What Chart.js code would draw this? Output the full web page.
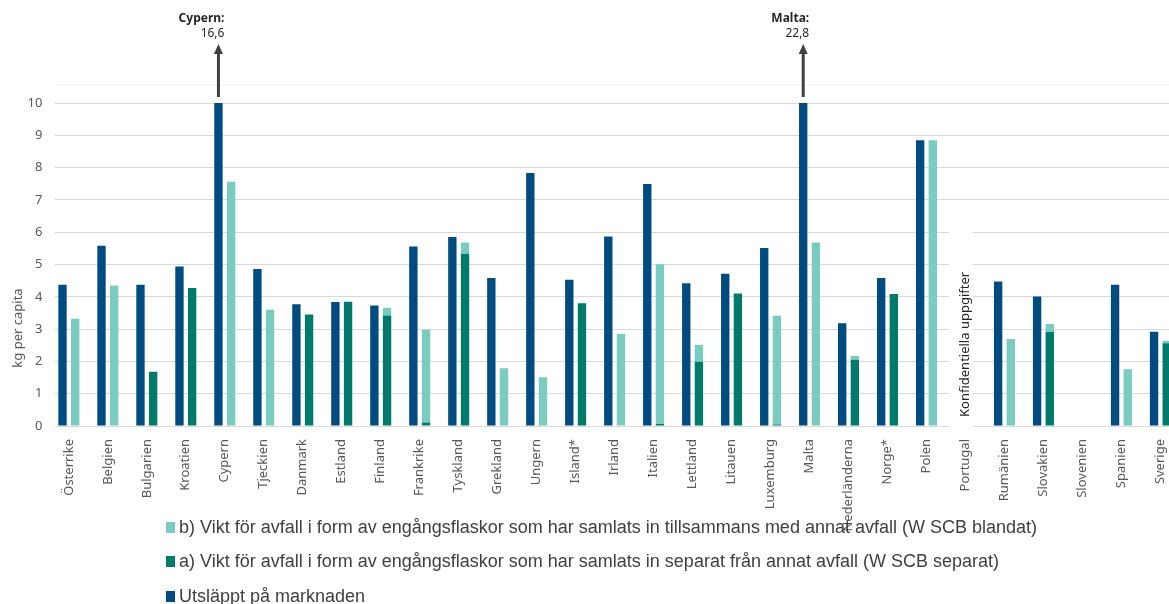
<!DOCTYPE html>
<html lang="sv">

<head>
    <meta charset="utf-8">
    <title>Engångsflaskor per capita</title>
    <script src="https://cdn.jsdelivr.net/npm/chart.js"></script>
    <style>
        html, body { margin: 0; padding: 0; overflow: hidden; background: #fff; }
        #wrap { position: relative; width: 1181px; height: 604px; }
        #legend {
            position: absolute; left: 166px; top: 510px;
            font-family: "Liberation Sans Narrow", "Liberation Sans", sans-serif;
            font-size: 18px; color: #404040;
        }
        .item { height: 34.5px; display: flex; align-items: center; white-space: nowrap; }
        .box { width: 9px; height: 11px; margin-right: 4px; }
    </style>
</head>

<body>
    <div id="wrap">
        <canvas id="chart" width="1181" height="604"></canvas>
        <div id="legend"></div>
    </div>

    <script>
        const categories = ['Österrike', 'Belgien', 'Bulgarien', 'Kroatien', 'Cypern', 'Tjeckien', 'Danmark',
            'Estland', 'Finland', 'Frankrike', 'Tyskland', 'Grekland', 'Ungern', 'Island*', 'Irland', 'Italien',
            'Lettland', 'Litauen', 'Luxemburg', 'Malta', 'Nederländerna', 'Norge*', 'Polen', 'Portugal',
            'Rumänien', 'Slovakien', 'Slovenien', 'Spanien', 'Sverige'];

        // utsläppt på marknaden
        const marketValues = [4.37, 5.58, 4.37, 4.94, 16.6, 4.86, 3.77, 3.84, 3.73, 5.56, 5.85, 4.58, 7.83, 4.53,
            5.87, 7.49, 4.42, 4.71, 5.51, 22.8, 3.18, 4.58, 8.85, null, 4.47, 4.01, null, 4.37, 2.92];
        // a) separat insamlat
        const separateValues = [null, null, 1.68, 4.27, null, null, 3.45, 3.85, 3.42, 0.11, 5.33, null, null, 3.8,
            null, 0.06, 1.99, 4.10, 0.05, null, 2.05, 4.09, null, null, null, 2.91, null, null, 2.56];
        // b) blandat, staplas ovanpå a)
        const mixedValues = [3.32, 4.35, null, null, 7.56, 3.60, null, null, 0.24, 2.87, 0.35, 1.79, 1.51, null,
            2.85, 4.95, 0.52, null, 3.36, 5.68, 0.12, null, 8.85, null, 2.69, 0.25, null, 1.76, 0.08];

        const seriesLabels = [
            'Utsläppt på marknaden',
            'a) Vikt för avfall i form av engångsflaskor som har samlats in separat från annat avfall (W SCB separat)',
            'b) Vikt för avfall i form av engångsflaskor som har samlats in tillsammans med annat avfall (W SCB blandat)'
        ];
        const seriesColors = ['#004b80', '#007a6a', '#7acbc0'];

        const yMax = 10;
        const offScale = ['Cypern', 'Malta'];
        const confidential = 'Portugal';

        const font = '"Noto Sans", "Liberation Sans", sans-serif';

        const extras = {
            id: 'extras',
            beforeDatasetsDraw(chart) {
                const ctx = chart.ctx;
                const area = chart.chartArea;
                const y = chart.scales.y;
                const px = chart.scales.x.getPixelForValue(categories.indexOf(confidential));
                ctx.save();
                // faint frame line at top
                ctx.fillStyle = '#f2f2f2';
                ctx.fillRect(area.left + 6, 84.5, chart.width, 1);
                ctx.fillStyle = '#fff';
                ctx.fillRect(area.left - 1, area.top - 2, 6.5, area.bottom - area.top + 4);
                ctx.fillRect(px - 16, y.getPixelForValue(6) - 4, 23, area.bottom - y.getPixelForValue(6) + 6);
                // texts
                ctx.fillStyle = '#262626';
                ctx.font = '13px ' + font;
                ctx.textBaseline = 'middle';
                ctx.textAlign = 'left';
                ctx.translate(px, 417);
                ctx.rotate(-Math.PI / 2);
                ctx.fillText('Konfidentiella uppgifter', 0, 0);
                ctx.restore();

                ctx.save();
                ctx.fillStyle = '#595959';
                ctx.font = '13px ' + font;
                ctx.textAlign = 'center';
                ctx.textBaseline = 'middle';
                ctx.translate(18, 328);
                ctx.rotate(-Math.PI / 2);
                ctx.fillText('kg per capita', 0, 0);
                ctx.restore();
            },
            afterDraw(chart) {
                const ctx = chart.ctx;
                const area = chart.chartArea;
                const bars = chart.getDatasetMeta(0).data;
                ctx.save();
                offScale.forEach(name => {
                    const i = categories.indexOf(name);
                    const x = bars[i].x;
                    ctx.strokeStyle = '#404040';
                    ctx.fillStyle = '#404040';
                    ctx.lineWidth = 3;
                    ctx.beginPath();
                    ctx.moveTo(x, area.top - 6);
                    ctx.lineTo(x, 53);
                    ctx.stroke();
                    ctx.beginPath();
                    ctx.moveTo(x, 44);
                    ctx.lineTo(x + 4.5, 54);
                    ctx.lineTo(x - 4.5, 54);
                    ctx.closePath();
                    ctx.fill();

                    ctx.fillStyle = '#262626';
                    ctx.textAlign = 'right';
                    ctx.textBaseline = 'middle';
                    ctx.font = 'bold 12px ' + font;
                    ctx.fillText(name + ':', x + 6, 19);
                    ctx.font = '12px ' + font;
                    ctx.fillText(String(marketValues[i]).replace('.', ','), x + 6, 34);
                });
                ctx.restore();
            }
        };

        new Chart(document.getElementById('chart'), {
            type: 'bar',
            data: {
                labels: categories,
                datasets: [{
                    label: seriesLabels[0],
                    data: marketValues,
                    backgroundColor: seriesColors[0],
                    stack: 'market'
                }, {
                    label: seriesLabels[1],
                    data: separateValues,
                    backgroundColor: seriesColors[1],
                    stack: 'waste'
                }, {
                    label: seriesLabels[2],
                    data: mixedValues,
                    backgroundColor: seriesColors[2],
                    stack: 'waste'
                }]
            },
            options: {
                responsive: false,
                animation: false,
                layout: { padding: { top: 103, left: 0, right: 0, bottom: 0 } },
                datasets: {
                    bar: { categoryPercentage: 0.65, barPercentage: 0.66, clip: 0 }
                },
                plugins: {
                    legend: { display: false },
                    tooltip: { enabled: false }
                },
                scales: {
                    x: {
                        stacked: true,
                        grid: { display: false },
                        border: { display: false },
                        ticks: {
                            autoSkip: false,
                            minRotation: 90,
                            maxRotation: 90,
                            padding: 5,
                            color: '#595959',
                            font: { family: font, size: 13 }
                        },
                        afterFit(scale) { scale.height = 178; }
                    },
                    y: {
                        stacked: true,
                        min: 0,
                        max: yMax,
                        grid: { color: '#d9d9d9', drawTicks: false },
                        border: { display: false },
                        ticks: {
                            stepSize: 1,
                            padding: 7,
                            color: '#595959',
                            font: { family: font, size: 13 }
                        },
                        afterFit(scale) { scale.width = 49.35; }
                    }
                }
            },
            plugins: [extras]
        });

        // legend, same order as the figure (reversed)
        const legendDiv = document.getElementById('legend');
        seriesLabels.slice().reverse().forEach((text, k) => {
            const color = seriesColors[seriesColors.length - 1 - k];
            const item = document.createElement('div');
            item.className = 'item';
            item.innerHTML = `<span class="box" style="background:${color}"></span><span>${text}</span>`;
            legendDiv.appendChild(item);
        });
    </script>
</body>

</html>
